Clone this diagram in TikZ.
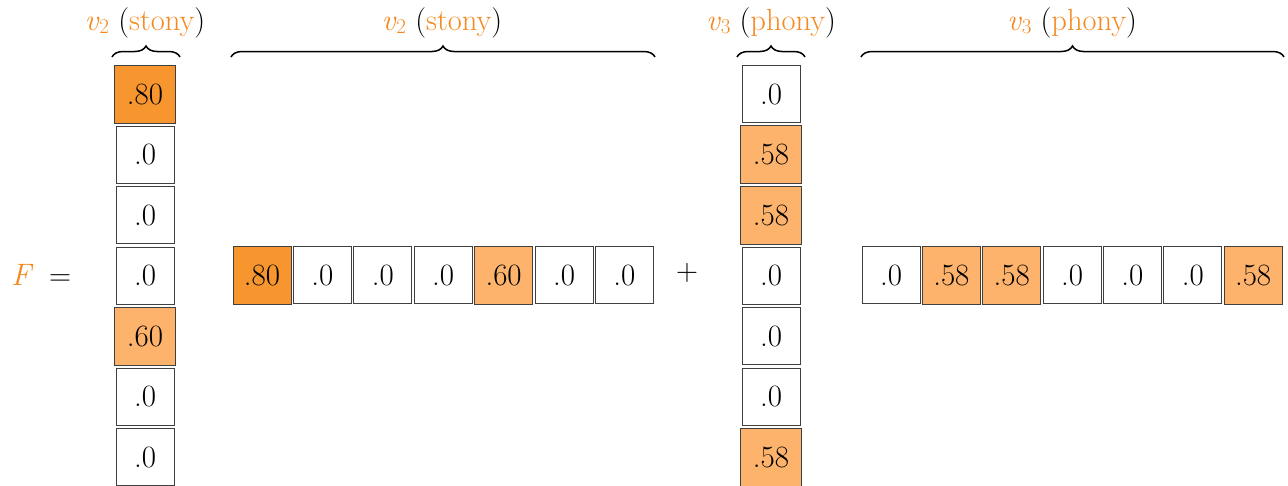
\documentclass[tikz,border=0pt]{standalone}
\usetikzlibrary{decorations.pathreplacing}
\definecolor{hiorange}{HTML}{F7962F}
\definecolor{loorange}{HTML}{FDB36B}
\definecolor{lblorange}{HTML}{F5891F}
\newcommand{\vsub}[2]{\textcolor{lblorange}{\textit{#1}\raisebox{-0.28ex}{\fontsize{21}{21}\selectfont #2}}}
\begin{document}
\begin{tikzpicture}[x=1pt,y=-1pt,
  cell/.style={draw=black!75, line width=0.9pt, minimum width=58pt, minimum height=57pt,
    inner sep=0pt, font=\fontsize{31}{31}\selectfont, fill=white},
  hi/.style={cell, fill=hiorange, minimum width=61pt, minimum height=58pt},
  lo/.style={cell, fill=loorange, minimum width=61pt, minimum height=58pt},
  lbl/.style={font=\fontsize{30.5}{30.5}\selectfont, inner sep=0pt, anchor=base},
  brc/.style={decorate, decoration={brace, amplitude=11pt}, line width=1.5pt}]
\useasboundingbox (0,0) rectangle (1288,485);

% F = column(v2) row(v2) + column(v3) row(v3)
\node[lbl, text=lblorange, font=\fontsize{31}{31}\selectfont\itshape] (F) at (21,285) {F};
\node[lbl] (eq) at (60,285) {=};
\node[lbl] (plus) at (687,280) {+};

% column vector for v2
\foreach \v/\s [count=\i from 0] in {.80/hi,.0/cell,.0/cell,.0/cell,.60/lo,.0/cell,.0/cell}
  \node[\s] (a\i) at (145,{94+60.5*\i}) {\v};
% row vector for v2
\foreach \v/\s [count=\i from 0] in {.80/hi,.0/cell,.0/cell,.0/cell,.60/lo,.0/cell,.0/cell}
  \node[\s, minimum width=58pt] (b\i) at ({262+60.4*\i},275) {\v};
% column vector for v3
\foreach \v/\s [count=\i from 0] in {.0/cell,.58/lo,.58/lo,.0/cell,.0/cell,.0/cell,.58/lo}
  \node[\s] (c\i) at (771,{94+60.5*\i}) {\v};
% row vector for v3
\foreach \v/\s [count=\i from 0] in {.0/cell,.58/lo,.58/lo,.0/cell,.0/cell,.0/cell,.58/lo}
  \node[\s, minimum width=58pt] (d\i) at ({891+60.35*\i},275) {\v};

% braces and their labels
\draw[brc] (112,57) -- (180,57);
\draw[brc] (231,57) -- (655,57);
\draw[brc] (737,57) -- (805,57);
\draw[brc] (861,57) -- (1284,57);

\node[lbl] (la) at (145,30) {\vsub{v}{2} (\textcolor{lblorange}{stony})};
\node[lbl] (lb) at (442,30) {\vsub{v}{2} (\textcolor{lblorange}{stony})};
\node[lbl] (lc) at (771,30) {\vsub{v}{3} (\textcolor{lblorange}{phony})};
\node[lbl] (ld) at (1072,30) {\vsub{v}{3} (\textcolor{lblorange}{phony})};
\end{tikzpicture}
\end{document}
